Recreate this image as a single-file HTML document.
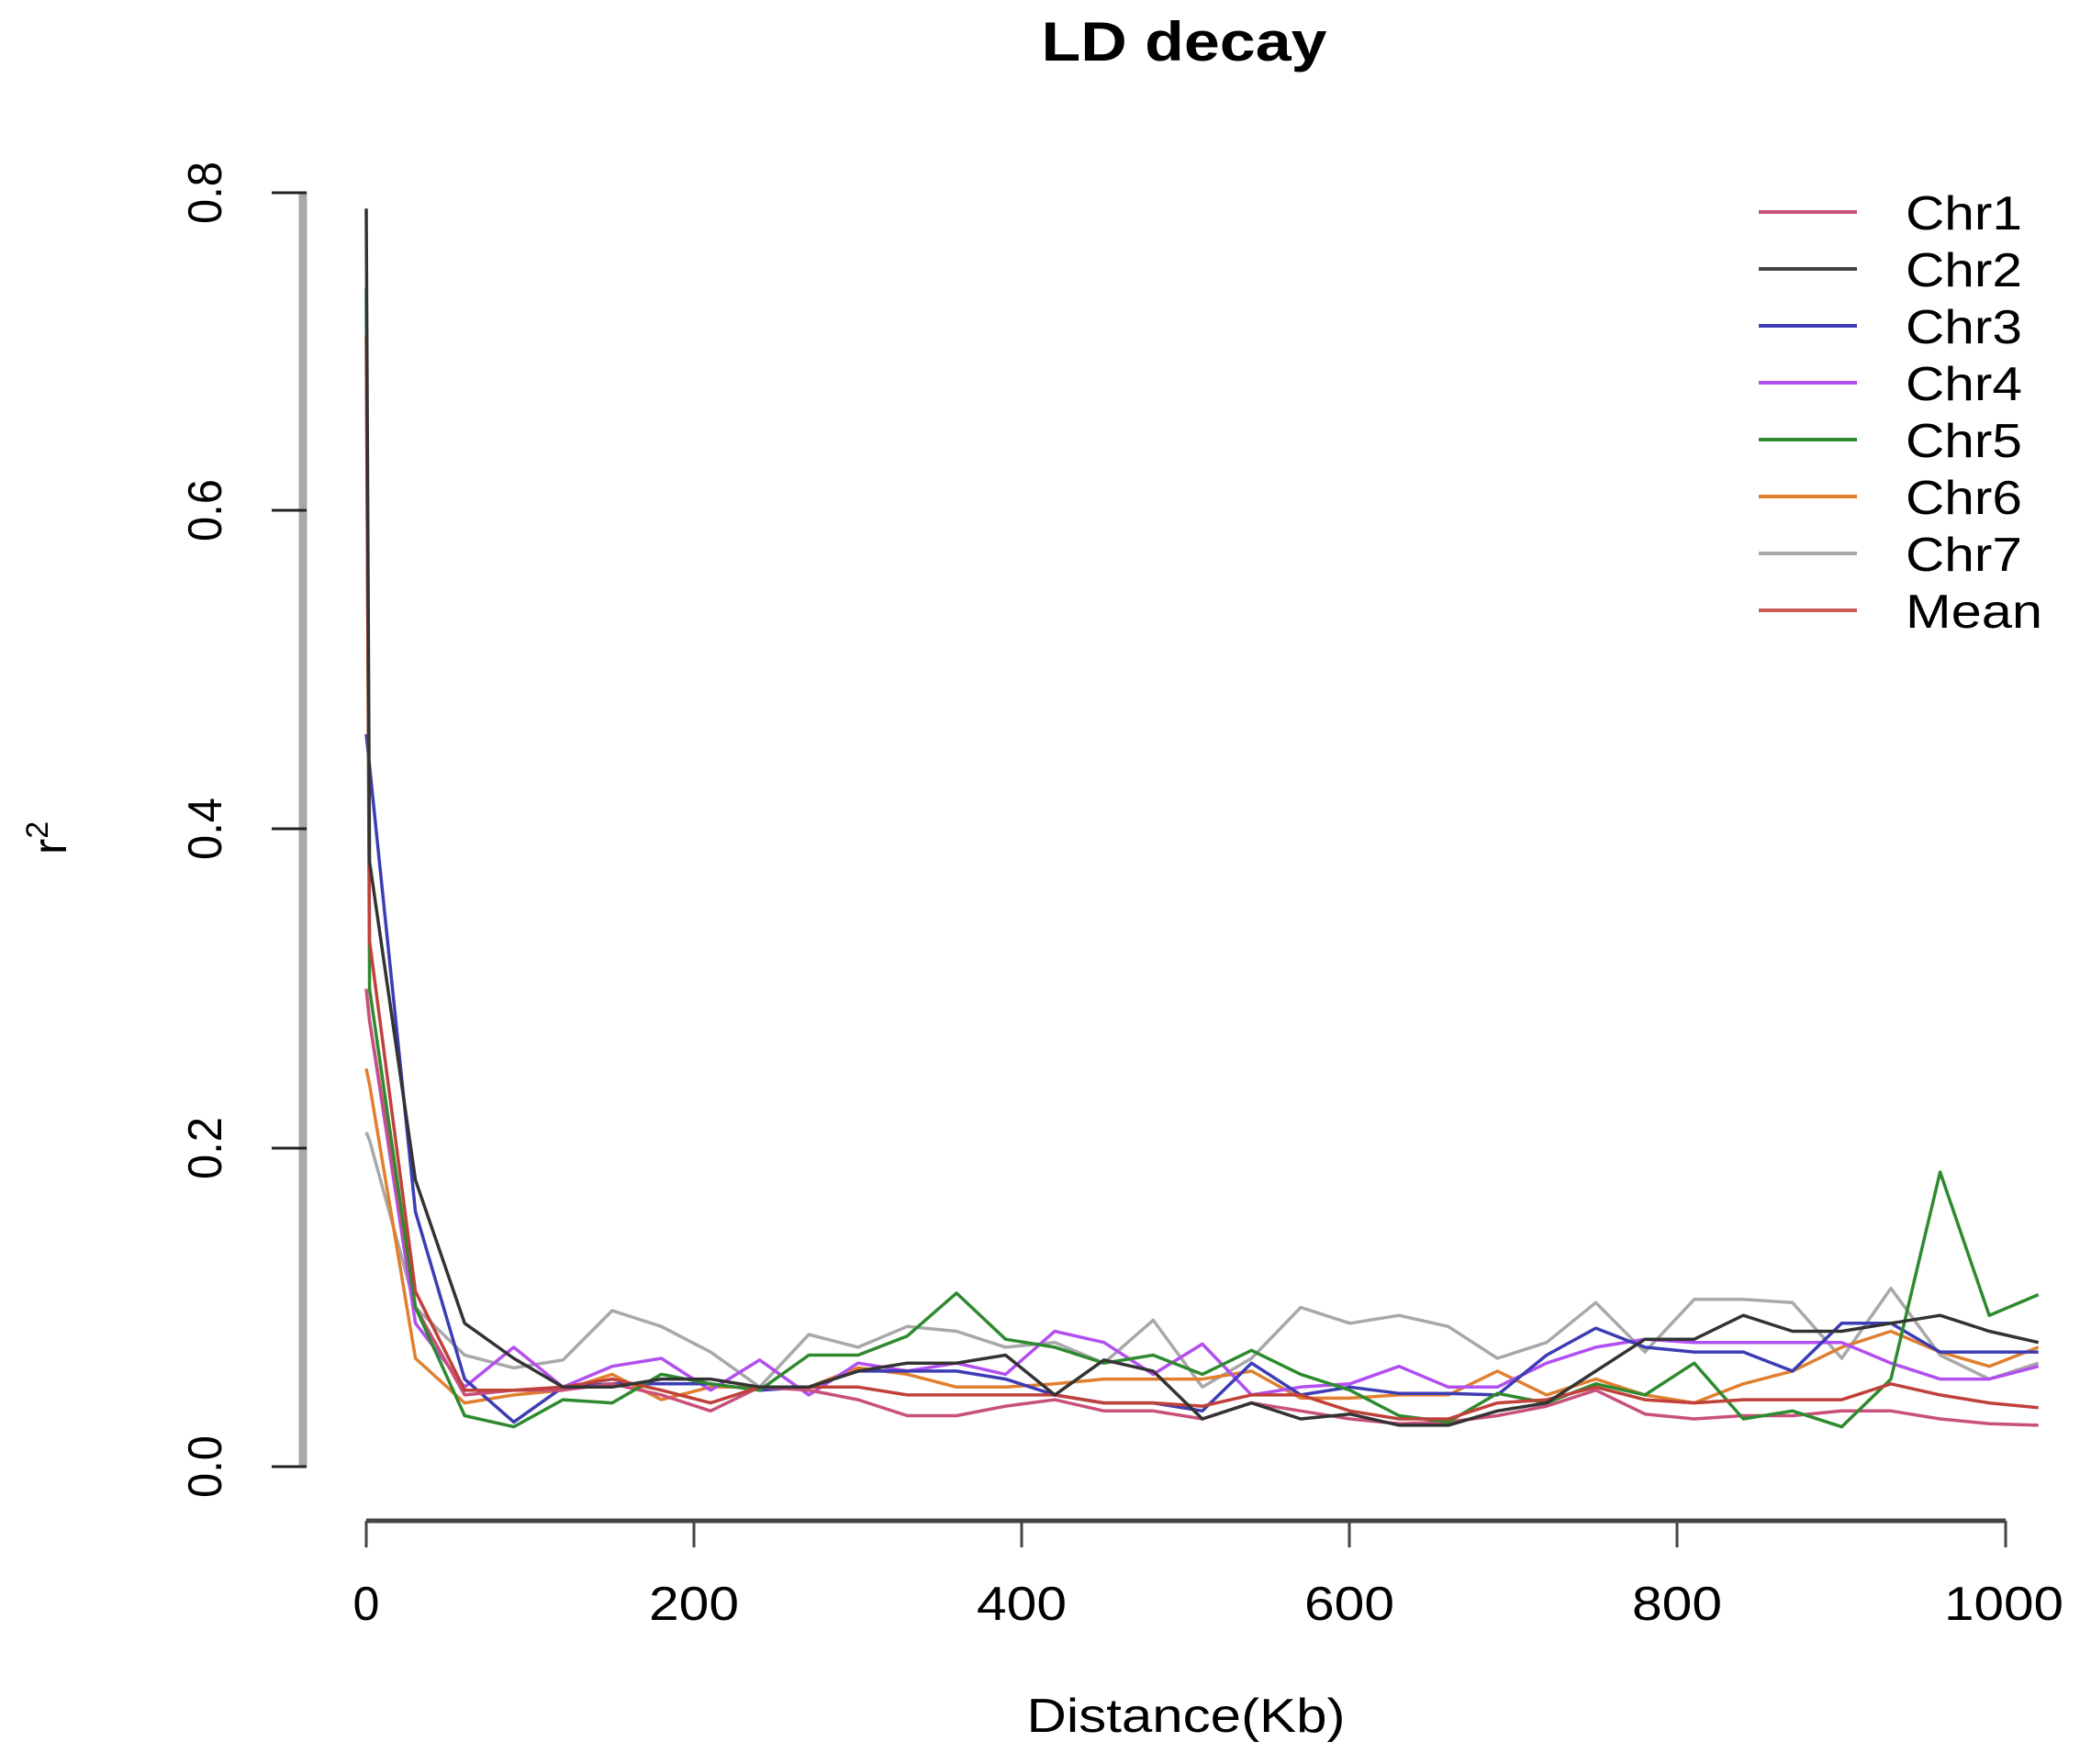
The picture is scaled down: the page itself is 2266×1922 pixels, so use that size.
<!DOCTYPE html>
<html><head><meta charset="utf-8"><style>
html,body{margin:0;padding:0;background:#fff;}
svg{display:block;}
text{font-family:"Liberation Sans",sans-serif;fill:#000;}
</style></head><body>
<svg id="s" width="2266" height="1922" viewBox="0 0 2266 1922" xmlns="http://www.w3.org/2000/svg">
<rect width="2266" height="1922" fill="#fff"/>
<text x="1290" y="66" font-size="60" font-weight="bold" text-anchor="middle" textLength="311" lengthAdjust="spacingAndGlyphs">LD decay</text>
<line x1="330" y1="210" x2="330" y2="1598" stroke="#a8a8a8" stroke-width="9"/>
<g stroke="#222" stroke-width="3">
<line x1="296" y1="210" x2="334" y2="210"/><line x1="296" y1="556" x2="334" y2="556"/>
<line x1="296" y1="903" x2="334" y2="903"/><line x1="296" y1="1251" x2="334" y2="1251"/>
<line x1="296" y1="1598" x2="334" y2="1598"/></g>
<g font-size="52" text-anchor="middle">
<text transform="translate(241,210) rotate(-90)" textLength="68" lengthAdjust="spacingAndGlyphs">0.8</text>
<text transform="translate(241,556) rotate(-90)" textLength="68" lengthAdjust="spacingAndGlyphs">0.6</text>
<text transform="translate(241,903) rotate(-90)" textLength="68" lengthAdjust="spacingAndGlyphs">0.4</text>
<text transform="translate(241,1251) rotate(-90)" textLength="68" lengthAdjust="spacingAndGlyphs">0.2</text>
<text transform="translate(241,1598) rotate(-90)" textLength="68" lengthAdjust="spacingAndGlyphs">0.0</text>
<text transform="translate(72,913) rotate(-90)">r<tspan dy="-20" font-size="34">2</tspan></text>
</g>
<line x1="399" y1="1657" x2="2185" y2="1657" stroke="#444" stroke-width="5"/>
<g stroke="#444" stroke-width="3">
<line x1="399" y1="1657" x2="399" y2="1686"/><line x1="756" y1="1657" x2="756" y2="1686"/>
<line x1="1113" y1="1657" x2="1113" y2="1686"/><line x1="1470" y1="1657" x2="1470" y2="1686"/>
<line x1="1827" y1="1657" x2="1827" y2="1686"/><line x1="2185" y1="1657" x2="2185" y2="1686"/></g>
<g font-size="52" text-anchor="middle">
<text x="399" y="1765">0</text>
<text x="756" y="1765" textLength="98" lengthAdjust="spacingAndGlyphs">200</text>
<text x="1113" y="1765" textLength="98" lengthAdjust="spacingAndGlyphs">400</text>
<text x="1470" y="1765" textLength="98" lengthAdjust="spacingAndGlyphs">600</text>
<text x="1827" y="1765" textLength="98" lengthAdjust="spacingAndGlyphs">800</text>
<text x="2183" y="1765" textLength="130" lengthAdjust="spacingAndGlyphs">1000</text>
<text x="1292" y="1887" textLength="347" lengthAdjust="spacingAndGlyphs">Distance(Kb)</text>
</g>
<g id="lines" fill="none" stroke-width="3.5" stroke-linejoin="round"></g>
<g stroke-width="4">
<line x1="1916" y1="231" x2="2023" y2="231" stroke="#c8507a"/>
<line x1="1916" y1="293" x2="2023" y2="293" stroke="#444"/>
<line x1="1916" y1="355" x2="2023" y2="355" stroke="#3c3cb4"/>
<line x1="1916" y1="417" x2="2023" y2="417" stroke="#b24ff0"/>
<line x1="1916" y1="479" x2="2023" y2="479" stroke="#2e8a2e"/>
<line x1="1916" y1="541" x2="2023" y2="541" stroke="#e07f30"/>
<line x1="1916" y1="603" x2="2023" y2="603" stroke="#a8a8a8"/>
<line x1="1916" y1="665" x2="2023" y2="665" stroke="#c85a5a"/>
</g>
<g font-size="52">
<text x="2076" y="250" textLength="127" lengthAdjust="spacingAndGlyphs">Chr1</text>
<text x="2076" y="312" textLength="127" lengthAdjust="spacingAndGlyphs">Chr2</text>
<text x="2076" y="374" textLength="127" lengthAdjust="spacingAndGlyphs">Chr3</text>
<text x="2076" y="436" textLength="127" lengthAdjust="spacingAndGlyphs">Chr4</text>
<text x="2076" y="498" textLength="127" lengthAdjust="spacingAndGlyphs">Chr5</text>
<text x="2076" y="560" textLength="127" lengthAdjust="spacingAndGlyphs">Chr6</text>
<text x="2076" y="622" textLength="127" lengthAdjust="spacingAndGlyphs">Chr7</text>
<text x="2076" y="684" textLength="149" lengthAdjust="spacingAndGlyphs">Mean</text>
</g>
</svg>
<script>
var S={
"#a8a8a8":[0.21,0.205,0.10,0.07,0.062,0.067,0.098,0.088,0.072,0.05,0.083,0.075,0.088,0.085,0.075,0.078,0.065,0.092,0.05,0.068,0.10,0.09,0.095,0.088,0.068,0.078,0.103,0.072,0.105,0.105,0.103,0.068,0.112,0.07,0.055,0.065],
"#e07f30":[0.25,0.24,0.068,0.04,0.045,0.048,0.058,0.042,0.05,0.05,0.05,0.062,0.058,0.05,0.05,0.052,0.055,0.055,0.055,0.06,0.043,0.043,0.045,0.045,0.06,0.045,0.055,0.045,0.04,0.052,0.06,0.075,0.085,0.072,0.063,0.075],
"#b24ff0":[0.3,0.28,0.09,0.05,0.075,0.05,0.063,0.068,0.048,0.067,0.045,0.065,0.06,0.065,0.058,0.085,0.078,0.058,0.077,0.045,0.05,0.052,0.063,0.05,0.05,0.065,0.075,0.08,0.078,0.078,0.078,0.078,0.065,0.055,0.055,0.063],
"#3c3cb4":[0.46,0.44,0.16,0.055,0.028,0.05,0.052,0.052,0.052,0.048,0.05,0.06,0.06,0.06,0.055,0.045,0.04,0.04,0.035,0.065,0.045,0.05,0.046,0.046,0.045,0.07,0.087,0.075,0.072,0.072,0.06,0.09,0.09,0.072,0.072,0.072],
"#c8507a":[0.3,0.28,0.1,0.045,0.048,0.048,0.052,0.045,0.035,0.05,0.048,0.042,0.032,0.032,0.038,0.042,0.035,0.035,0.03,0.04,0.035,0.03,0.027,0.028,0.032,0.038,0.048,0.033,0.03,0.032,0.032,0.035,0.035,0.03,0.027,0.026],
"#2e8a2e":[0.74,0.3,0.10,0.032,0.025,0.042,0.040,0.058,0.052,0.048,0.07,0.07,0.082,0.109,0.08,0.075,0.065,0.07,0.058,0.073,0.058,0.048,0.032,0.028,0.046,0.04,0.052,0.045,0.065,0.03,0.035,0.025,0.055,0.185,0.095,0.108],
"#c0403a":[0.71,0.33,0.11,0.048,0.048,0.05,0.055,0.048,0.04,0.05,0.05,0.05,0.045,0.045,0.045,0.045,0.04,0.04,0.038,0.045,0.045,0.035,0.03,0.03,0.04,0.042,0.05,0.042,0.04,0.042,0.042,0.042,0.052,0.045,0.04,0.037],
"#333333":[0.79,0.38,0.18,0.09,0.068,0.05,0.05,0.055,0.055,0.05,0.05,0.06,0.065,0.065,0.07,0.045,0.067,0.06,0.03,0.04,0.03,0.033,0.026,0.026,0.035,0.04,0.06,0.08,0.08,0.095,0.085,0.085,0.09,0.095,0.085,0.078]
};
var g=document.getElementById("lines"),h="";
for(var c in S){var d=S[c],p="";for(var i=0;i<d.length;i++){var kb=i==0?0:(i==1?2:(i-1)*30);var x=399+kb*1.786,y=1598-d[i]*1735;p+=(i?"L":"M")+x.toFixed(1)+","+y.toFixed(1);}
h+='<path stroke="'+c+'" d="'+p+'"/>';}
g.innerHTML=h;
</script>
</body></html>
